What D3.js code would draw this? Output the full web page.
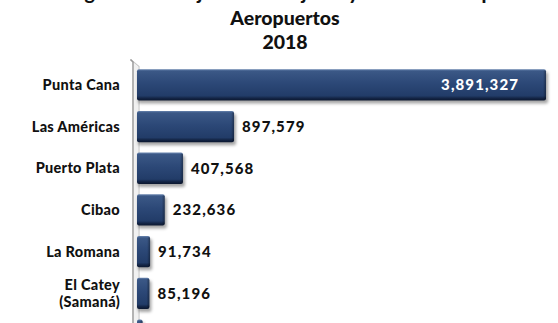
<!DOCTYPE html>
<html><head><meta charset="utf-8">
<script src="https://cdn.jsdelivr.net/npm/d3@7"></script>
<style>
body{margin:0;background:#fff;overflow:hidden}
text{font-family:Lato,"Open Sans",sans-serif;font-weight:900;fill:#111}
</style>
</head><body>
<svg id="c" width="558" height="323"></svg>
<script>
const titleLines = ["Llegada de Pasajeros Extranjeros y Dominicanos por", "Aeropuertos", "2018"];
const airports = ["Punta Cana", "Las Américas", "Puerto Plata", "Cibao", "La Romana", "El Catey\n(Samaná)", "La Isabela"];
const passengers = [3891327, 897579, 407568, 232636, 91734, 85196, 20000];

const W = 558, H = 323;
const svg = d3.select("#c");
const defs = svg.append("defs");
const g1 = defs.append("linearGradient").attr("id","barg").attr("x1",0).attr("y1",0).attr("x2",0).attr("y2",1);
[[0,"#6a86b0"],[0.06,"#3b5886"],[0.45,"#2c4877"],[0.85,"#223c68"],[0.93,"#132444"],[1,"#0c1830"]]
  .forEach(([o,c])=>g1.append("stop").attr("offset",o).attr("stop-color",c));
const g2 = defs.append("linearGradient").attr("id","endg").attr("x1",0).attr("y1",0).attr("x2",1).attr("y2",0);
[[0,"rgba(0,0,0,0)"],[1,"rgba(0,0,0,0.35)"]].forEach(([o,c])=>g2.append("stop").attr("offset",o).attr("stop-color",c));
defs.append("filter").attr("id","sh").attr("x","-10%").attr("y","-20%").attr("width","130%").attr("height","160%")
  .append("feGaussianBlur").attr("stdDeviation",1.5);

// title
svg.append("g").selectAll("text").data(titleLines).join("text")
  .attr("x",285).attr("y",(d,i)=>0+i*24.5)
  .attr("text-anchor","middle").style("font-size","19.5px").text(d=>d);

const x = d3.scaleLinear().domain([0, d3.max(passengers)]).range([140.5, 546]);
const y = d3.scaleBand().domain(airports).range([64, 64+7*41.7]).paddingInner(0.25).paddingOuter(0.125);

// axis wall
const wall = svg.append("g");
wall.append("path").attr("d",`M130.5,59.5 L139,66.5 L139,${H}`).attr("fill","none").attr("stroke","#c8c8c8").attr("stroke-width",1.2);
wall.append("path").attr("d",`M130.5,59.5 L133,62 L133,${H}`).attr("fill","none").attr("stroke","#9a9a9a").attr("stroke-width",1.5);
wall.append("path").attr("d",`M134,63 L138,66.5 L138,${H} L134,${H} Z`).attr("fill","#f1f1f1");

const data = airports.map((a,i)=>({a, v:passengers[i]}));
const x0 = x(0) - 3.5;
const bars = svg.append("g").selectAll("g").data(data).join("g");
bars.append("rect").attr("x",x0+1).attr("y",d=>y(d.a)+3).attr("width",d=>x(d.v)-x0+1).attr("height",y.bandwidth())
  .attr("rx",2).attr("fill","rgba(0,0,0,0.35)").attr("filter","url(#sh)");
bars.append("rect").attr("x",x0).attr("y",d=>y(d.a)).attr("width",d=>x(d.v)-x0).attr("height",y.bandwidth())
  .attr("rx",2).attr("fill","url(#barg)");
bars.append("rect").attr("x",d=>x(d.v)-3).attr("y",d=>y(d.a)+1).attr("width",3).attr("height",y.bandwidth()-2)
  .attr("rx",1.5).attr("fill","url(#endg)");

const inView = d => y(d.a !== undefined ? d.a : d) + y.bandwidth()/2 + 8 < H;
const fmt = d3.format(",");
bars.filter(inView).append("text")
  .attr("x",d=> x(d.v)-x0 > 200 ? x(d.v)-27 : x(d.v)+8)
  .attr("y",d=>y(d.a)+y.bandwidth()/2)
  .attr("dy","0.36em")
  .attr("text-anchor",d=> x(d.v)-x0 > 200 ? "end" : "start")
  .style("fill",d=> x(d.v)-x0 > 200 ? "#fff" : "#111")
  .style("font-size","15px").style("letter-spacing","1.1px")
  .text(d=>fmt(d.v));

// category labels
const cat = svg.append("g").selectAll("text").data(airports.filter(inView)).join("text")
  .attr("x",120).attr("text-anchor","end").style("font-size","14.5px").style("letter-spacing","0.3px")
  .attr("y",d=>y(d)+y.bandwidth()/2);
cat.each(function(d){
  const parts = d.split("\n");
  const t = d3.select(this);
  parts.forEach((p,i)=>t.append("tspan").attr("x",120)
    .attr("dy", i===0 ? (0.36 - (parts.length-1)*0.6)+"em" : "1.2em").text(p));
});
</script>
</body></html>
